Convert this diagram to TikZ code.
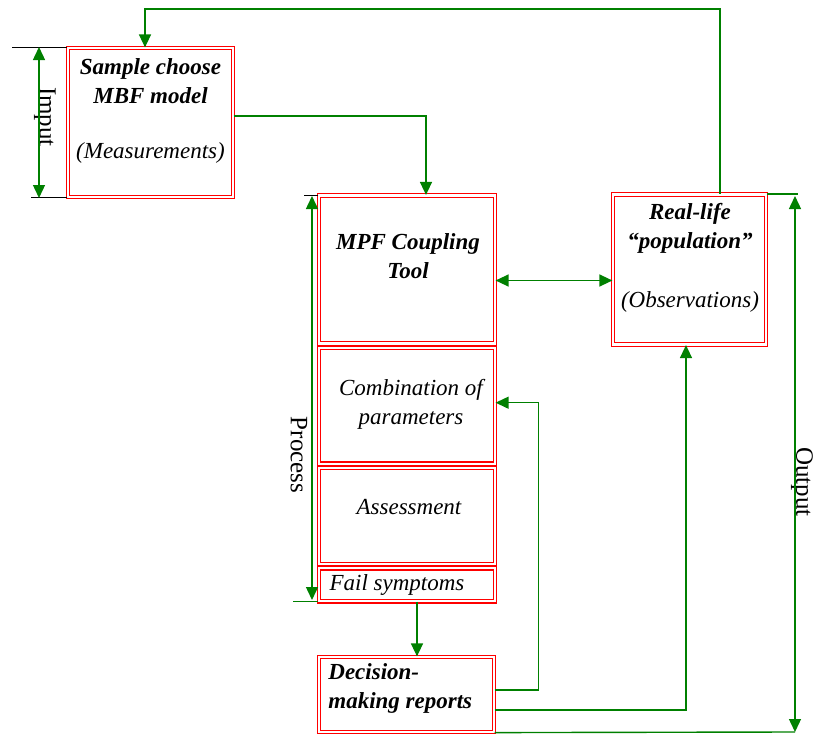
\documentclass[tikz,border=0pt]{standalone}
\usepackage{fontspec}
\setmainfont{Liberation Serif}
\usetikzlibrary{arrows.meta,positioning,calc}
\definecolor{linkgreen}{RGB}{0,128,0}

\tikzset{
  box/.style={draw=red, double, double distance=1.2pt, line width=0.6pt, inner sep=0pt},
  head/.style={font=\fontsize{11.5}{14.5}\selectfont\bfseries\itshape, align=center, inner sep=0pt},
  body/.style={font=\fontsize{11.5}{14.5}\selectfont\itshape, align=center, inner sep=0pt},
  side/.style={font=\fontsize{12.5}{15}\selectfont, rotate=-90, inner sep=0pt},
  wire/.style={draw=linkgreen, line width=0.7pt},
  link/.style={wire, -{Triangle[width=6pt,length=6.5pt]}},
  both/.style={wire, {Triangle[width=6pt,length=6.5pt]}-{Triangle[width=6pt,length=6.5pt]}}
}

\begin{document}
\begin{tikzpicture}[x=0.5pt,y=-0.5pt]
\useasboundingbox (0,0) rectangle (816,734);

% boxes
\node[box, minimum width=82.5pt, minimum height=74.5pt] (sample) at (150.5,122.5) {};
\node[box, minimum width=88pt, minimum height=74pt] (mpf) at (407,269.5) {};
\node[box, minimum width=88pt, minimum height=58pt, below=1.5pt of mpf] (comb) {};
\node[box, minimum width=88pt, minimum height=48pt, below=1.5pt of comb] (assess) {};
\node[box, minimum width=88pt, minimum height=16.5pt, below=1.5pt of assess] (fail) {};
\node[box, minimum width=87.5pt, minimum height=37.5pt] (dec) at (406.5,694.5) {};
\node[box, minimum width=76.5pt, minimum height=75pt] (real) at (689.5,269.5) {};

% texts
\node[head] (sampleT) at (150.5,81) {Sample choose\\MBF model};
\node[body] (sampleM) at (150.5,153) {(Measurements)};
\node[head] (mpfT) at (408,256) {MPF Coupling\\Tool};
\node[body] (combT) at (411,404) {Combination of\\parameters};
\node[body] (assessT) at (409,507) {Assessment};
\node[body] (failT) at (397,585) {Fail symptoms};
\node[head, anchor=west, align=left] (decT) at (328,688) {Decision-\\making reports};
\node[head] (realT) at (690,228) {Real-life\\“population”};
\node[body] (realM) at (690,302) {(Observations)};

\node[side] (inputL) at (45,117) {Imput};
\node[side] (procL) at (299,455) {Process};
\node[side] (outL) at (802,482) {Output};

% input / process / output bars
\coordinate (inT) at (39,47);
\coordinate (inB) at (39,198);
\coordinate (prT) at (312,196);
\coordinate (prB) at (312,600);
\coordinate (outT) at (795,196);
\coordinate (outB) at (795,732);

\draw (sample.north west) -- ++(-55,0);
\draw (sample.south west) -- ++(-36,0);
\draw[both] (inT) -- (inB);

\draw (mpf.north west) -- ++(-14,0);
\draw[wire] (fail.south west) -- ++(-25,0);
\draw[both] (prT) -- (prB);

\draw[wire] (real.north east) -- ++(31,0);
\draw[wire] (dec.south east) -- (outB);
\draw[both] (outT) -- (outB);

% flows
\draw[link] ([xshift=15.25pt]real.north) -- ++(0,-185) -| ([xshift=-2.75pt]sample.north);
\draw[link] ([yshift=3.25pt]sample.east) -| ([xshift=9.5pt]mpf.north);
\draw[both] ([yshift=-5.5pt]mpf.east) -- ([yshift=-5.5pt]real.west);
\draw[link] ([xshift=5pt]fail.south) -- ([xshift=5.25pt]dec.north);
\draw[link] ([yshift=2.25pt]dec.east) -- ++(44,0) |- ([yshift=1.5pt]comb.east);
\draw[link] ([yshift=-7.75pt]dec.east) -| ([xshift=-1.75pt]real.south);

\end{tikzpicture}
\end{document}
